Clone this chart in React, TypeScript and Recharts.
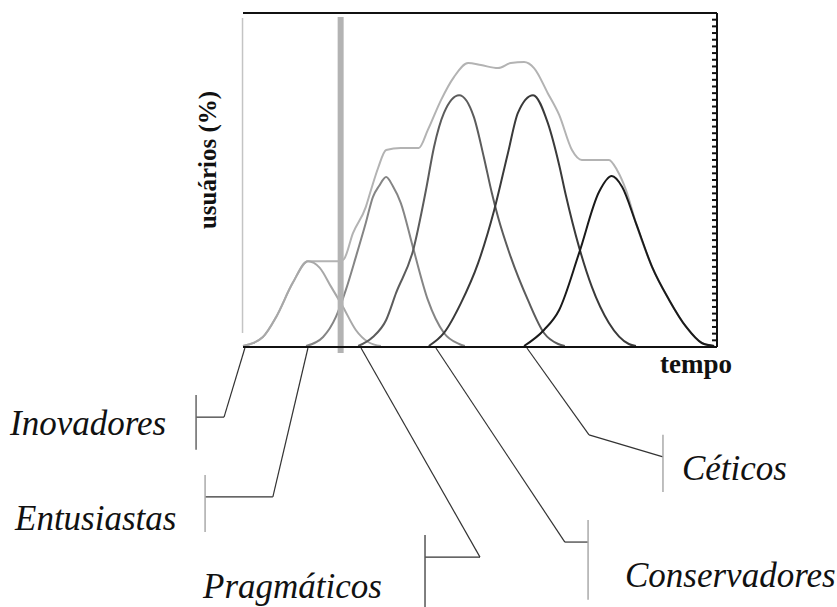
import { ComposedChart, Line, XAxis, YAxis, ReferenceLine } from "recharts"

// tempo (0-100) x usuários (%)
const inovadores = [[0, 0.3], [4.2, 3.0], [7.0, 9.0], [10.5, 19.2], [13.7, 25.7], [16.2, 23.7], [18.6, 18.0], [21.1, 12.0], [23.8, 5.1], [26.4, 1.5], [29.1, 0.3]]
const entusiastas = [[13.3, 0.3], [16.9, 3.0], [19.6, 9.0], [21.7, 17.1], [23.8, 26.9], [25.9, 37.1], [27.4, 44.9], [28.7, 48.2], [30.2, 50.9], [31.6, 48.2], [33.3, 43.1], [35.9, 29.6], [39.0, 14.1], [42.4, 4.2], [45.6, 0.9], [46.8, 0.3]]
const pragmaticos = [[24.3, 0.3], [27.4, 3.0], [30.2, 8.1], [32.3, 16.2], [35.9, 29.0], [38.6, 47.0], [40.3, 59.9], [42.4, 70.1], [45.6, 75.4], [48.7, 68.9], [50.8, 56.9], [52.5, 46.1], [53.8, 38.9], [56.5, 26.9], [60.1, 14.1], [63.5, 4.2], [66.5, 0.9], [67.9, 0.3]]
const conservadores = [[39.2, 0.3], [42.4, 4.2], [46.0, 13.2], [49.6, 25.1], [53.0, 41.0], [55.9, 58.1], [58.0, 70.1], [61.2, 75.4], [64.3, 67.1], [66.7, 54.5], [68.1, 45.5], [70.9, 29.9], [73.6, 18.0], [77.2, 7.2], [81.4, 0.9], [82.9, 0.3]]
const ceticos = [[59.3, 0.3], [63.5, 5.1], [66.7, 11.1], [70.9, 28.1], [75.1, 46.4], [77.8, 51.2], [80.0, 47.9], [82.9, 37.1], [86.3, 24.0], [89.9, 14.1], [93.5, 6.0], [96.8, 1.2], [99.4, 0.3]]
const total = [[0, 0.3], [4.2, 3.0], [7.0, 9.0], [10.5, 19.2], [13.7, 25.7], [17.3, 25.7], [20.5, 25.7], [21.3, 26.3], [23.2, 34.1], [25.9, 41.9], [27.0, 47.0], [28.5, 53.6], [30.2, 59.0], [33.3, 59.6], [37.1, 59.6], [39.0, 65.0], [41.8, 74.0], [44.5, 80.8], [47.5, 85.0], [50.2, 84.4], [53.8, 83.5], [56.5, 85.0], [59.3, 85.3], [61.4, 83.5], [64.3, 76.0], [66.7, 69.5], [69.4, 59.0], [71.5, 56.0], [77.2, 56.0], [78.9, 53.0], [80.8, 47.0], [82.9, 37.1], [86.3, 24.0], [89.9, 14.1], [93.5, 6.0], [96.8, 1.2], [99.4, 0.3]]

const topTicks = [14.6, 30.0, 45.8, 61.2, 76.6, 92.6]
const rightTicks = Array.from({ length: 51 }, (_, i) => i * 2)
const marker = 20.6

// leader lines from the time axis to each group name
const leaders = [
  { name: "Inovadores", path: [[0.4, -0.3], [-4.0, -21.0], [-9.9, -21.0]], bar: [-9.9, -14.4, -30.8], barColor: "#666" },
  { name: "Entusiastas", path: [[13.7, -0.3], [6.3, -44.9], [-8.0, -44.9]], bar: [-8.0, -38.3, -55.4], barColor: "#aaa" },
  { name: "Pragmáticos", path: [[24.9, -0.3], [50.0, -62.9], [38.4, -62.9]], bar: [38.4, -56.3, -79.3], barColor: "#555" },
  { name: "Conservadores", path: [[40.7, -0.3], [67.9, -58.4], [72.8, -58.4]], bar: [72.8, -51.8, -75.7], barColor: "#aaa" },
  { name: "Céticos", path: [[59.9, -0.3], [73.0, -26.3], [88.6, -32.9]], bar: [88.6, -26.3, -43.4], barColor: "#aaa" },
]

const labels = [
  { text: "Inovadores", x: 10, y: 435 },
  { text: "Entusiastas", x: 15, y: 530 },
  { text: "Pragmáticos", x: 203, y: 598 },
  { text: "Céticos", x: 682, y: 480 },
  { text: "Conservadores", x: 625, y: 587 },
]

const toPoints = (arr: number[][]) => arr.map(([x, y]) => ({ x, y }))

const series = [
  { key: "total", data: total, color: "#b3b3b3" },
  { key: "inovadores", data: inovadores, color: "#a8a8a8" },
  { key: "entusiastas", data: entusiastas, color: "#858585" },
  { key: "pragmaticos", data: pragmaticos, color: "#5c5c5c" },
  { key: "conservadores", data: conservadores, color: "#3a3a3a" },
  { key: "ceticos", data: ceticos, color: "#1a1a1a" },
]

const serif = '"Liberation Serif", "Times New Roman", serif'
const noLabel = () => <g />

export default function App() {
  return (
    <div style={{ position: "absolute", left: 0, top: 0, width: 837, height: 607, background: "#fff", overflow: "hidden" }}>
      <ComposedChart width={837} height={607} margin={{ top: 12, right: 119, bottom: 259, left: 243 }}>
        <XAxis
          dataKey="x"
          type="number"
          domain={[0, 100]}
          height={1}
          tick={false}
          tickLine={false}
          axisLine={{ stroke: "#111", strokeWidth: 2 }}
        />
        <XAxis
          xAxisId="top"
          orientation="top"
          type="number"
          domain={[0, 100]}
          height={1}
          ticks={topTicks}
          interval={0}
          tick={noLabel}
          tickSize={-4}
          tickLine={{ stroke: "#111", strokeWidth: 2 }}
          axisLine={{ stroke: "#111", strokeWidth: 2 }}
        />
        <YAxis
          orientation="right"
          type="number"
          domain={[0, 100]}
          width={1}
          ticks={rightTicks}
          interval={0}
          tick={noLabel}
          tickSize={-5}
          tickLine={{ stroke: "#111", strokeWidth: 2 }}
          axisLine={{ stroke: "#111", strokeWidth: 2 }}
        />
        <ReferenceLine
          segment={[{ x: -0.1, y: 4.2 }, { x: -0.1, y: 98.5 }]}
          stroke="#c4c4c4"
          strokeWidth={1.5}
          ifOverflow="visible"
        />
        {series.map((s) => (
          <Line
            key={s.key}
            data={toPoints(s.data)}
            dataKey="y"
            type="monotone"
            stroke={s.color}
            strokeWidth={2}
            dot={false}
            activeDot={false}
            isAnimationActive={false}
          />
        ))}
        <ReferenceLine
          segment={[{ x: marker, y: 98.8 }, { x: marker, y: -1.8 }]}
          stroke="#b3b3b3"
          strokeWidth={6}
          ifOverflow="visible"
        />
        {leaders.map((l) =>
          l.path.slice(1).map((p, i) => (
            <ReferenceLine
              key={l.name + i}
              segment={[{ x: l.path[i][0], y: l.path[i][1] }, { x: p[0], y: p[1] }]}
              stroke="#333"
              strokeWidth={1.2}
              ifOverflow="visible"
            />
          ))
        )}
        {leaders.map((l) => (
          <ReferenceLine
            key={l.name + "bar"}
            segment={[{ x: l.bar[0], y: l.bar[1] }, { x: l.bar[0], y: l.bar[2] }]}
            stroke={l.barColor}
            strokeWidth={1.5}
            ifOverflow="visible"
          />
        ))}
      </ComposedChart>
      <svg width={837} height={607} style={{ position: "absolute", left: 0, top: 0, pointerEvents: "none" }}>
        <text
          transform="translate(216,160) rotate(-90)"
          textAnchor="middle"
          fontFamily={serif}
          fontWeight="bold"
          fontSize={25}
          fill="#111"
        >
          usuários (%)
        </text>
        <text x={660} y={373} fontFamily={serif} fontWeight="bold" fontSize={27} fill="#111">
          tempo
        </text>
        {labels.map((l) => (
          <text key={l.text} x={l.x} y={l.y} fontFamily={serif} fontStyle="italic" fontSize={35} fill="#111">
            {l.text}
          </text>
        ))}
      </svg>
    </div>
  )
}
